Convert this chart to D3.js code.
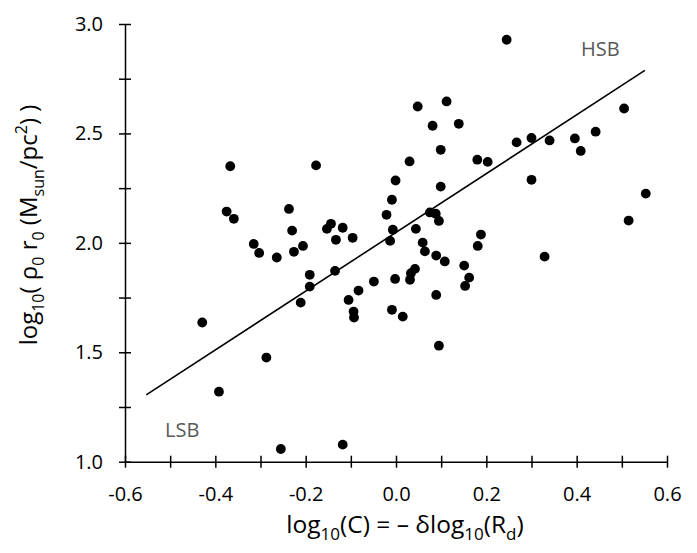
<!DOCTYPE html>
<html>
<head>
<meta charset="utf-8">
<script src="https://cdn.jsdelivr.net/npm/d3@7"></script>
<style>
  body { margin: 0; background: #fff; }
  text { font-family: "Open Sans", "Noto Sans", sans-serif; }
</style>
</head>
<body>
<script>
// data
var xVals = [-0.429, -0.392, -0.375, -0.367, -0.359, -0.315, -0.303, -0.287, -0.264, -0.255,
             -0.237, -0.230, -0.226, -0.211, -0.206, -0.191, -0.191, -0.177, -0.153, -0.144,
             -0.135, -0.133, -0.118, -0.118, -0.105, -0.096, -0.094, -0.093, -0.083, -0.049,
             -0.021, -0.013, -0.009, -0.009, -0.007, -0.002, -0.001, 0.015, 0.030, 0.031,
             0.033, 0.042, 0.044, 0.048, 0.059, 0.064, 0.075, 0.081, 0.088, 0.089,
             0.089, 0.095, 0.095, 0.099, 0.099, 0.108, 0.112, 0.139, 0.151, 0.153,
             0.162, 0.180, 0.181, 0.188, 0.203, 0.245, 0.267, 0.300, 0.300, 0.329,
             0.340, 0.396, 0.409, 0.442, 0.505, 0.515, 0.553];
var yVals = [1.636, 1.320, 2.143, 2.350, 2.110, 1.995, 1.954, 1.476, 1.933, 1.058,
             2.155, 2.056, 1.959, 1.727, 1.986, 1.854, 1.800, 2.354, 2.064, 2.087,
             1.872, 2.014, 2.069, 1.078, 1.739, 2.023, 1.686, 1.659, 1.782, 1.823,
             2.128, 2.009, 2.197, 1.694, 2.060, 1.835, 2.285, 1.663, 2.372, 1.831,
             1.861, 1.881, 2.064, 2.623, 2.001, 1.961, 2.139, 2.535, 2.133, 1.942,
             1.762, 2.100, 1.530, 2.425, 2.257, 1.915, 2.646, 2.544, 1.896, 1.803,
             1.841, 2.380, 1.986, 2.038, 2.370, 2.928, 2.459, 2.479, 2.288, 1.937,
             2.468, 2.477, 2.420, 2.508, 2.614, 2.102, 2.225];

// fitted line end points
var fitX = [-0.553, 0.551];
var fitY = [1.305, 2.788];

var xMajor = [-0.6, -0.4, -0.2, 0.0, 0.2, 0.4, 0.6];
var xMinor = [-0.6, -0.5, -0.4, -0.3, -0.2, -0.1, 0.0, 0.1, 0.2, 0.3, 0.4, 0.5, 0.6];
var yMajor = [1.0, 1.5, 2.0, 2.5, 3.0];
var yMinor = [1.0, 1.25, 1.5, 1.75, 2.0, 2.25, 2.5, 2.75, 3.0];

var width = 697, height = 553;
var mLeft = 125, mRight = 667, mTop = 24, mBottom = 461.7;

var xScale = d3.scaleLinear().domain([-0.6, 0.6]).range([mLeft, mRight]);
var yScale = d3.scaleLinear().domain([1.0, 3.0]).range([mBottom, mTop]);

// label only the major values, plain hyphen as minus
function majorLabel(list) {
    return function(d) {
        var isMajor = list.some(function(m) { return Math.abs(m - d) < 1e-9; });
        return isMajor ? d.toFixed(1) : "";
    };
}

var svg = d3.select("body").append("svg")
    .attr("width", width)
    .attr("height", height);

var xAxis = d3.axisBottom(xScale).tickValues(xMinor).tickSizeOuter(0).tickSizeInner(6)
    .tickFormat(majorLabel(xMajor));
var yAxis = d3.axisLeft(yScale).tickValues(yMinor).tickSizeOuter(0).tickSizeInner(6)
    .tickFormat(majorLabel(yMajor));

var gx = svg.append("g").attr("transform", "translate(0," + mBottom + ")").call(xAxis);
var gy = svg.append("g").attr("transform", "translate(" + mLeft + ",0)").call(yAxis);

// ticks cross the axis line
gx.selectAll(".tick line").attr("y1", -6).attr("stroke-width", 1.5);
gy.selectAll(".tick line").attr("x1", 6).attr("stroke-width", 1.5);
gx.select(".domain").attr("stroke-width", 1.5);
gy.select(".domain").attr("stroke-width", 1.5);
gx.selectAll(".tick text").attr("y", 39).attr("dy", 0);
gy.selectAll(".tick text").attr("x", -22);
svg.selectAll(".tick text").attr("font-size", 20).attr("fill", "#000")
    .style("font-family", "'Open Sans', sans-serif");

// fitted line
svg.append("line")
    .attr("x1", xScale(fitX[0])).attr("y1", yScale(fitY[0]))
    .attr("x2", xScale(fitX[1])).attr("y2", yScale(fitY[1]))
    .attr("stroke", "#000").attr("stroke-width", 1.6);

// points
svg.selectAll("circle.pt").data(xVals).enter()
    .append("circle")
    .attr("class", "pt")
    .attr("cx", function(d) { return xScale(d); })
    .attr("cy", function(d, i) { return yScale(yVals[i]); })
    .attr("r", 4.9)
    .attr("fill", "#000");

// labels in the plot
svg.append("text").attr("x", 581).attr("y", 56).attr("font-size", 20).attr("fill", "#595959").text("HSB");
svg.append("text").attr("x", 165).attr("y", 437).attr("font-size", 20).attr("fill", "#595959").text("LSB");

// x title
var xt = svg.append("text").attr("x", 405).attr("y", 533).attr("text-anchor", "middle")
    .attr("font-size", 24.5).attr("fill", "#000");
xt.append("tspan").text("log");
xt.append("tspan").attr("font-size", 17).attr("dy", 7).text("10");
xt.append("tspan").attr("dy", -7).text("(C) = \u2013 \u03b4log");
xt.append("tspan").attr("font-size", 17).attr("dy", 7).text("10");
xt.append("tspan").attr("dy", -7).text("(R");
xt.append("tspan").attr("font-size", 17).attr("dy", 7).text("d");
xt.append("tspan").attr("dy", -7).text(")");

// y title
var yt = svg.append("text").attr("transform", "translate(37,225) rotate(-90)")
    .attr("text-anchor", "middle").attr("font-size", 24).attr("fill", "#000");
yt.append("tspan").text("log");
yt.append("tspan").attr("font-size", 16).attr("dy", 7).text("10");
yt.append("tspan").attr("dy", -7).text("( \u03c1");
yt.append("tspan").attr("font-size", 16).attr("dy", 7).text("0");
yt.append("tspan").attr("dy", -7).text(" r");
yt.append("tspan").attr("font-size", 16).attr("dy", 7).text("0");
yt.append("tspan").attr("dy", -7).text("  (M");
yt.append("tspan").attr("font-size", 16).attr("dy", 7).text("sun");
yt.append("tspan").attr("dy", -7).text("/pc");
yt.append("tspan").attr("font-size", 16).attr("dy", -10).text("2");
yt.append("tspan").attr("dy", 10).text(") )");
</script>
</body>
</html>
